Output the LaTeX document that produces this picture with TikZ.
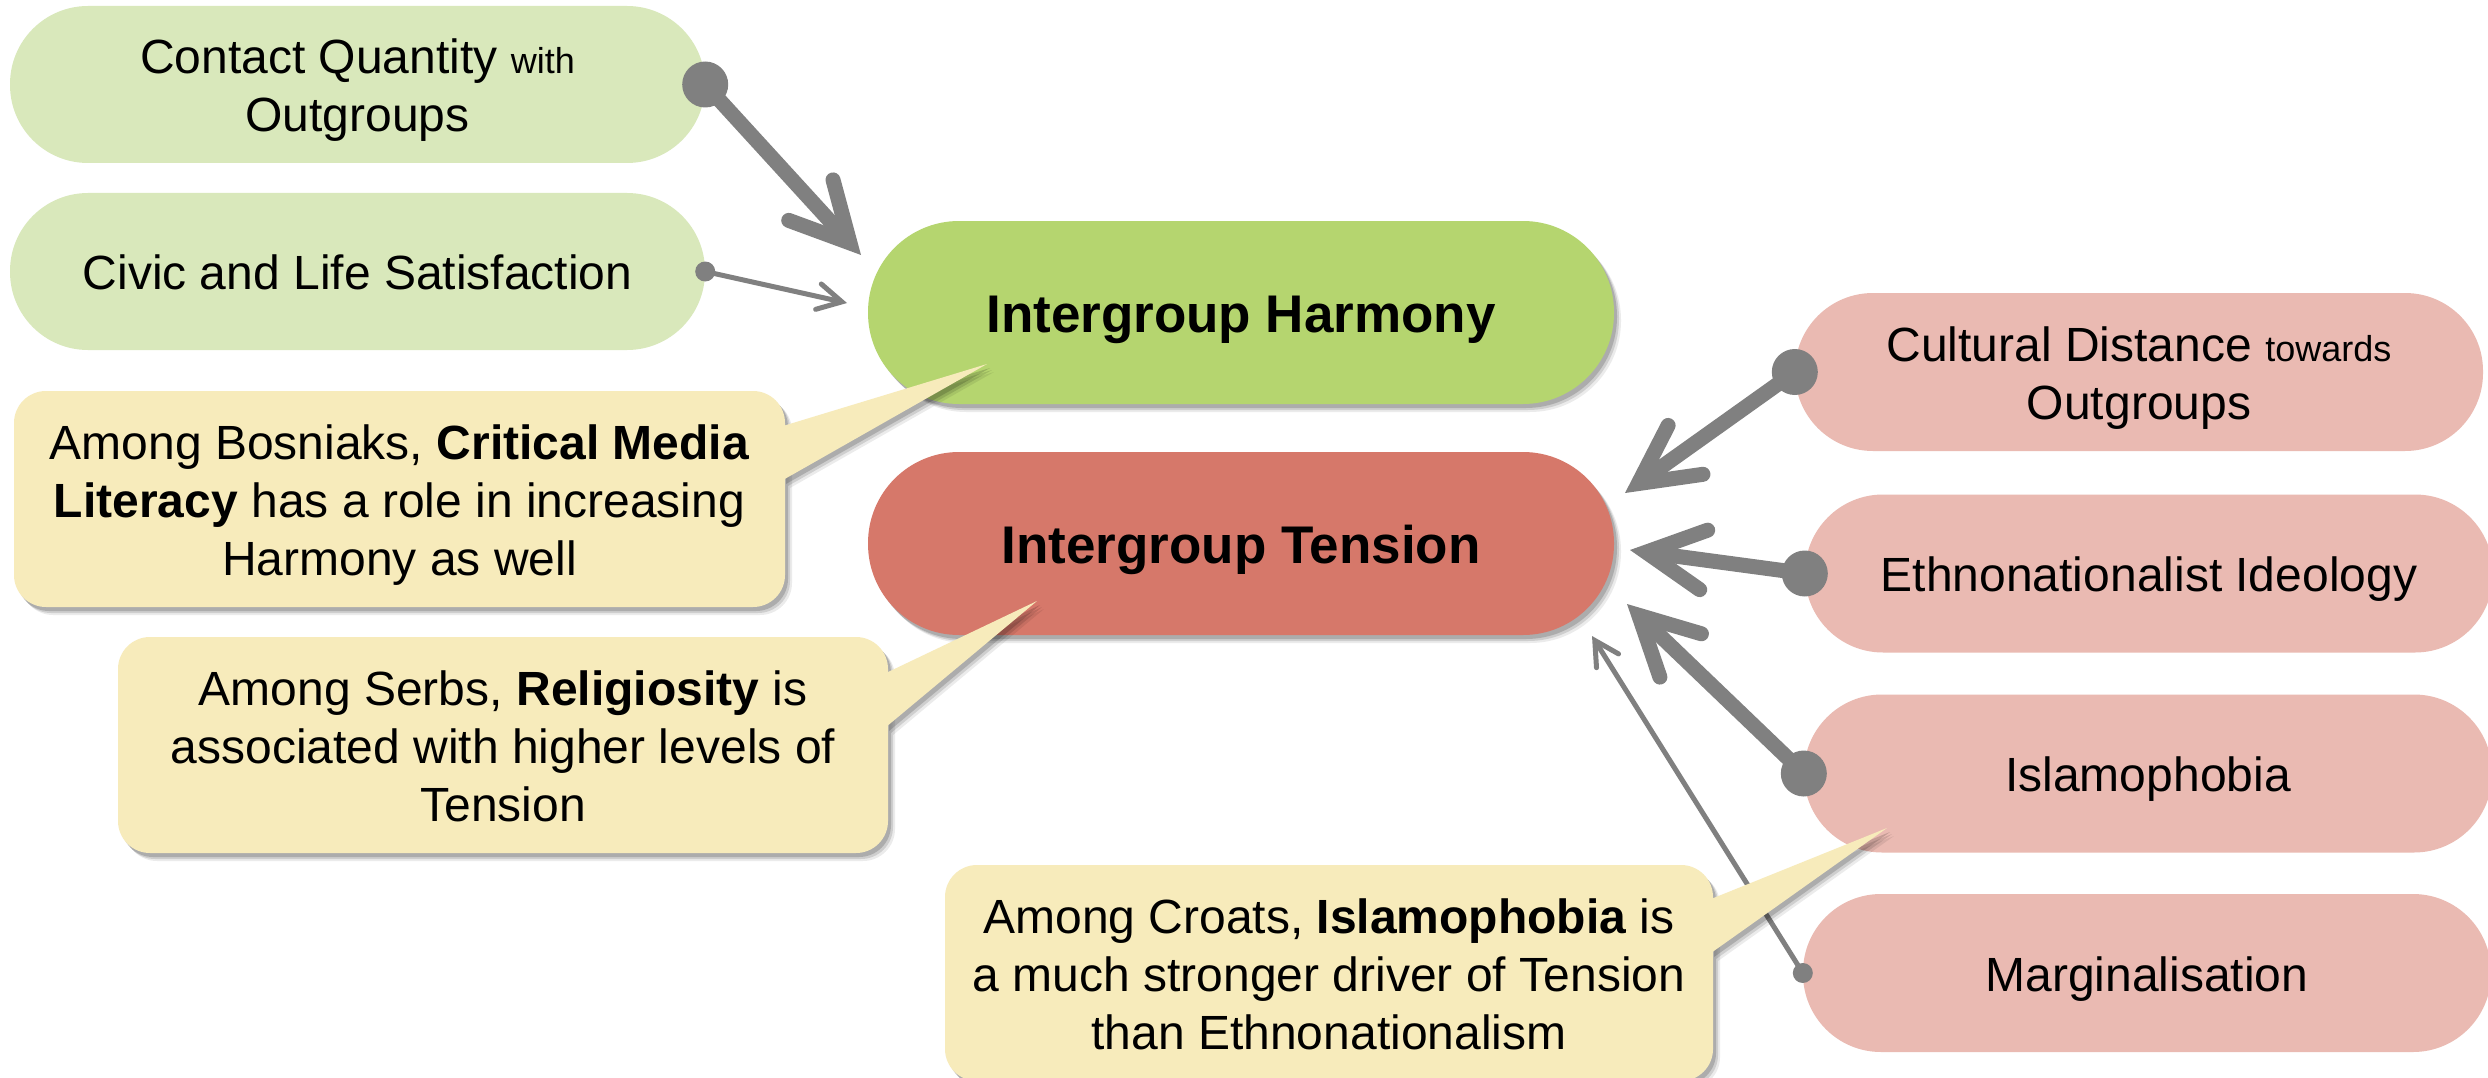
\documentclass[tikz,border=0pt]{standalone}
\usepackage{fontspec}
\setmainfont{Liberation Sans}
\usetikzlibrary{arrows.meta,shadows}
\definecolor{lgreen}{HTML}{D9E8BB}
\definecolor{hgreen}{HTML}{B5D56F}
\definecolor{tred}{HTML}{D6786A}
\definecolor{lpink}{HTML}{EABAB2}
\definecolor{cyel}{HTML}{F7EBBB}
\definecolor{agray}{HTML}{808080}
\newcommand\fnorm{\fontsize{48}{58}\selectfont}
\newcommand\fsmall{\fontsize{36}{43}\selectfont}
\newcommand\fbig{\fontsize{53}{64}\selectfont\bfseries}
\newcommand\mlines[1]{\begin{tabular}[t]{@{}c@{}}#1\end{tabular}}
\begin{document}
\begin{tikzpicture}[x=1pt,y=-1pt,
  basebox/.style={rectangle, inner sep=0pt, font=\fnorm, text height=43pt, text depth=7pt},
  lbox/.style={basebox, fill=lgreen, minimum width=695pt, minimum height=157pt, rounded corners=78pt},
  rbox/.style={basebox, fill=lpink, minimum width=688pt, minimum height=158pt, rounded corners=78pt},
  cshadow/.style={
    general shadow={shadow xshift=7pt, shadow yshift=-8pt, opacity=0.08, fill=black},
    general shadow={shadow xshift=5pt, shadow yshift=-6pt, opacity=0.12, fill=black},
    general shadow={shadow xshift=3pt, shadow yshift=-4pt, opacity=0.16, fill=black}},
  cbox/.style={basebox, font=\fbig, text height=48pt, text depth=8pt, minimum width=746pt, minimum height=183pt, rounded corners=91pt, cshadow},
  callout/.style={basebox, fill=cyel, minimum height=216pt, rounded corners=32pt, cshadow},
  pointer/.style={fill=cyel, cshadow},
  heavy/.style={draw=agray, line width=15pt, -{Straight Barb[length=58pt,width=60pt,line cap=round,line join=miter]}},
  lightarrow/.style={draw=agray, line width=5pt, -{Straight Barb[length=24pt,width=26pt,line cap=round,line join=miter]}}
]
\useasboundingbox (0,0) rectangle (2488,1078);
\fill[white] (0,0) rectangle (2488,1078);

% left boxes
\node[lbox, text depth=65pt] (contact) at (357.5,84.5) {\mlines{Contact Quantity {\fsmall with}\\Outgroups}};
\node[lbox] (civic) at (357.5,271.5) {Civic and Life Satisfaction};

% central boxes
\node[cbox, fill=hgreen] (harmony) at (1241,312.5) {Intergroup Harmony};
\node[cbox, fill=tred] (tension) at (1241,543.5) {Intergroup Tension};

% right boxes
\node[rbox, text depth=65pt] (cultural) at (2139,372) {\mlines{Cultural Distance {\fsmall towards}\\Outgroups}};
\node[rbox] (ethno) at (2149,573.5) {Ethnonationalist Ideology};
\node[rbox] (islamo) at (2148,773.5) {Islamophobia};
\node[rbox] (margin) at (2147,973) {Marginalisation};

% arrow end points
\coordinate (tC) at (861,255);
\coordinate (tV) at (847,303);
\coordinate (tD) at (1625,493);
\coordinate (tE) at (1630,550);
\coordinate (tI) at (1627,604);
\coordinate (tM) at (1592,636);

% connectors
\fill[agray] (contact.east) circle (23pt);
\draw[heavy] (contact.east) -- (tC);
\fill[agray] (civic.east) circle (10pt);
\draw[lightarrow] (civic.east) -- (tV);
\fill[agray] (cultural.west) circle (23pt);
\draw[heavy] (cultural.west) -- (tD);
\fill[agray] (ethno.west) circle (23pt);
\draw[heavy] (ethno.west) -- (tE);
\fill[agray] (islamo.west) circle (23pt);
\draw[heavy] (islamo.west) -- (tI);
\fill[agray] (margin.west) circle (10pt);
\draw[lightarrow] (margin.west) -- (tM);

% callouts
\node[callout, minimum width=771pt, text depth=123pt] (bos) at (399.5,499)
  {\mlines{Among Bosniaks, \textbf{Critical Media}\\\textbf{Literacy} has a role in increasing\\Harmony as well}};
\fill[pointer] (783,426) -- (987,364) -- (783,480) -- cycle;

\node[callout, minimum width=770pt, text depth=123pt] (serbs) at (503,745)
  {\mlines{Among Serbs, \textbf{Religiosity} is\\associated with higher levels of\\Tension}};
\fill[pointer] (886,673) -- (1037,601) -- (886,727) -- cycle;

\node[callout, minimum width=768pt, text depth=123pt] (croats) at (1329,973)
  {\mlines{Among Croats, \textbf{Islamophobia} is\\a much stronger driver of Tension\\than Ethnonationalism}};
\fill[pointer] (1711,899) -- (1887,828) -- (1711,953) -- cycle;
\end{tikzpicture}
\end{document}
